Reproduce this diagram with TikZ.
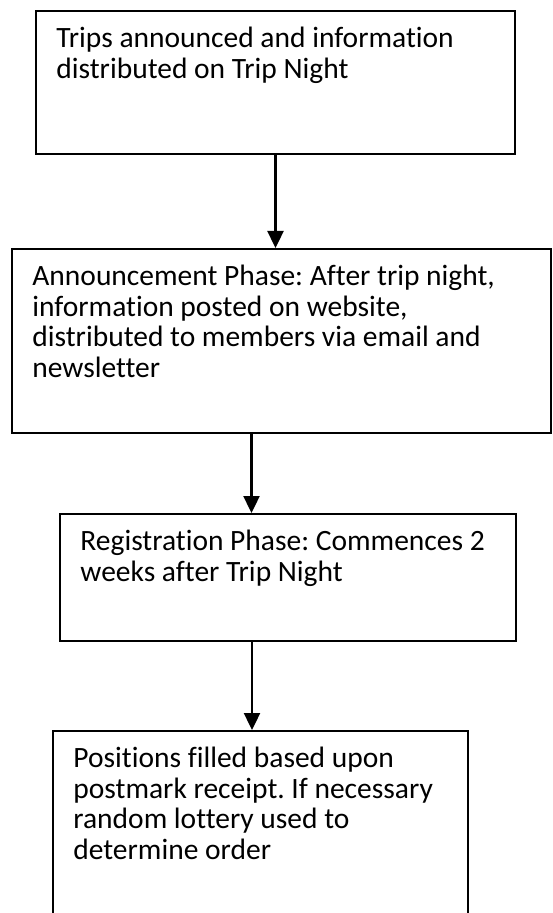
\documentclass[tikz,border=0pt]{standalone}
\usepackage{fontspec}
\setmainfont{Carlito}[RawFeature={-liga}]
\frenchspacing
\usetikzlibrary{arrows.meta, positioning}

\begin{document}
\begin{tikzpicture}[x=0.5pt, y=-0.5pt,
  stepbox/.style={draw=black, line width=1pt, anchor=north west, inner sep=0pt},
  steptext/.style={anchor=north west, align=left, inner xsep=10.5pt, inner ysep=8.5pt, font=\fontsize{14.75pt}{15.25pt}\selectfont},
  flow/.style={-{Triangle[width=8pt, length=8.5pt]}, line width=1.2pt}
]
  \useasboundingbox (0,0) rectangle (552,913);
  % boxes
  \node[stepbox, minimum width=239.5pt, minimum height=71.5pt] (trips) at (35,10) {};
  \node[stepbox, minimum width=269.5pt, minimum height=92pt] (announce) at (11,248) {};
  \node[stepbox, minimum width=228pt, minimum height=63.5pt] (register) at (59,513) {};
  \node[stepbox, minimum width=207.5pt, minimum height=100pt] (positions) at (52,730) {};
  % texts
  \node[steptext] (tripstext) at (trips.north west) {Trips announced and information\\distributed on Trip Night};
  \node[steptext] (announcetext) at (announce.north west) {Announcement Phase: After trip night,\\information posted on website,\\distributed to members via email and\\newsletter};
  \node[steptext] (registertext) at (register.north west) {Registration Phase: Commences 2\\weeks after Trip Night};
  \node[steptext] (positionstext) at (positions.north west) {Positions filled based upon\\postmark receipt. If necessary\\random lottery used to\\determine order};
  % arrows
  \draw[flow] (trips.south) -- (trips.south |- announce.north);
  \draw[flow] ([xshift=-15pt]announce.south) -- ([xshift=-15pt]announce.south |- register.north);
  \draw[flow] ([xshift=-18pt]register.south) -- ([xshift=-18pt]register.south |- positions.north);
\end{tikzpicture}
\end{document}
